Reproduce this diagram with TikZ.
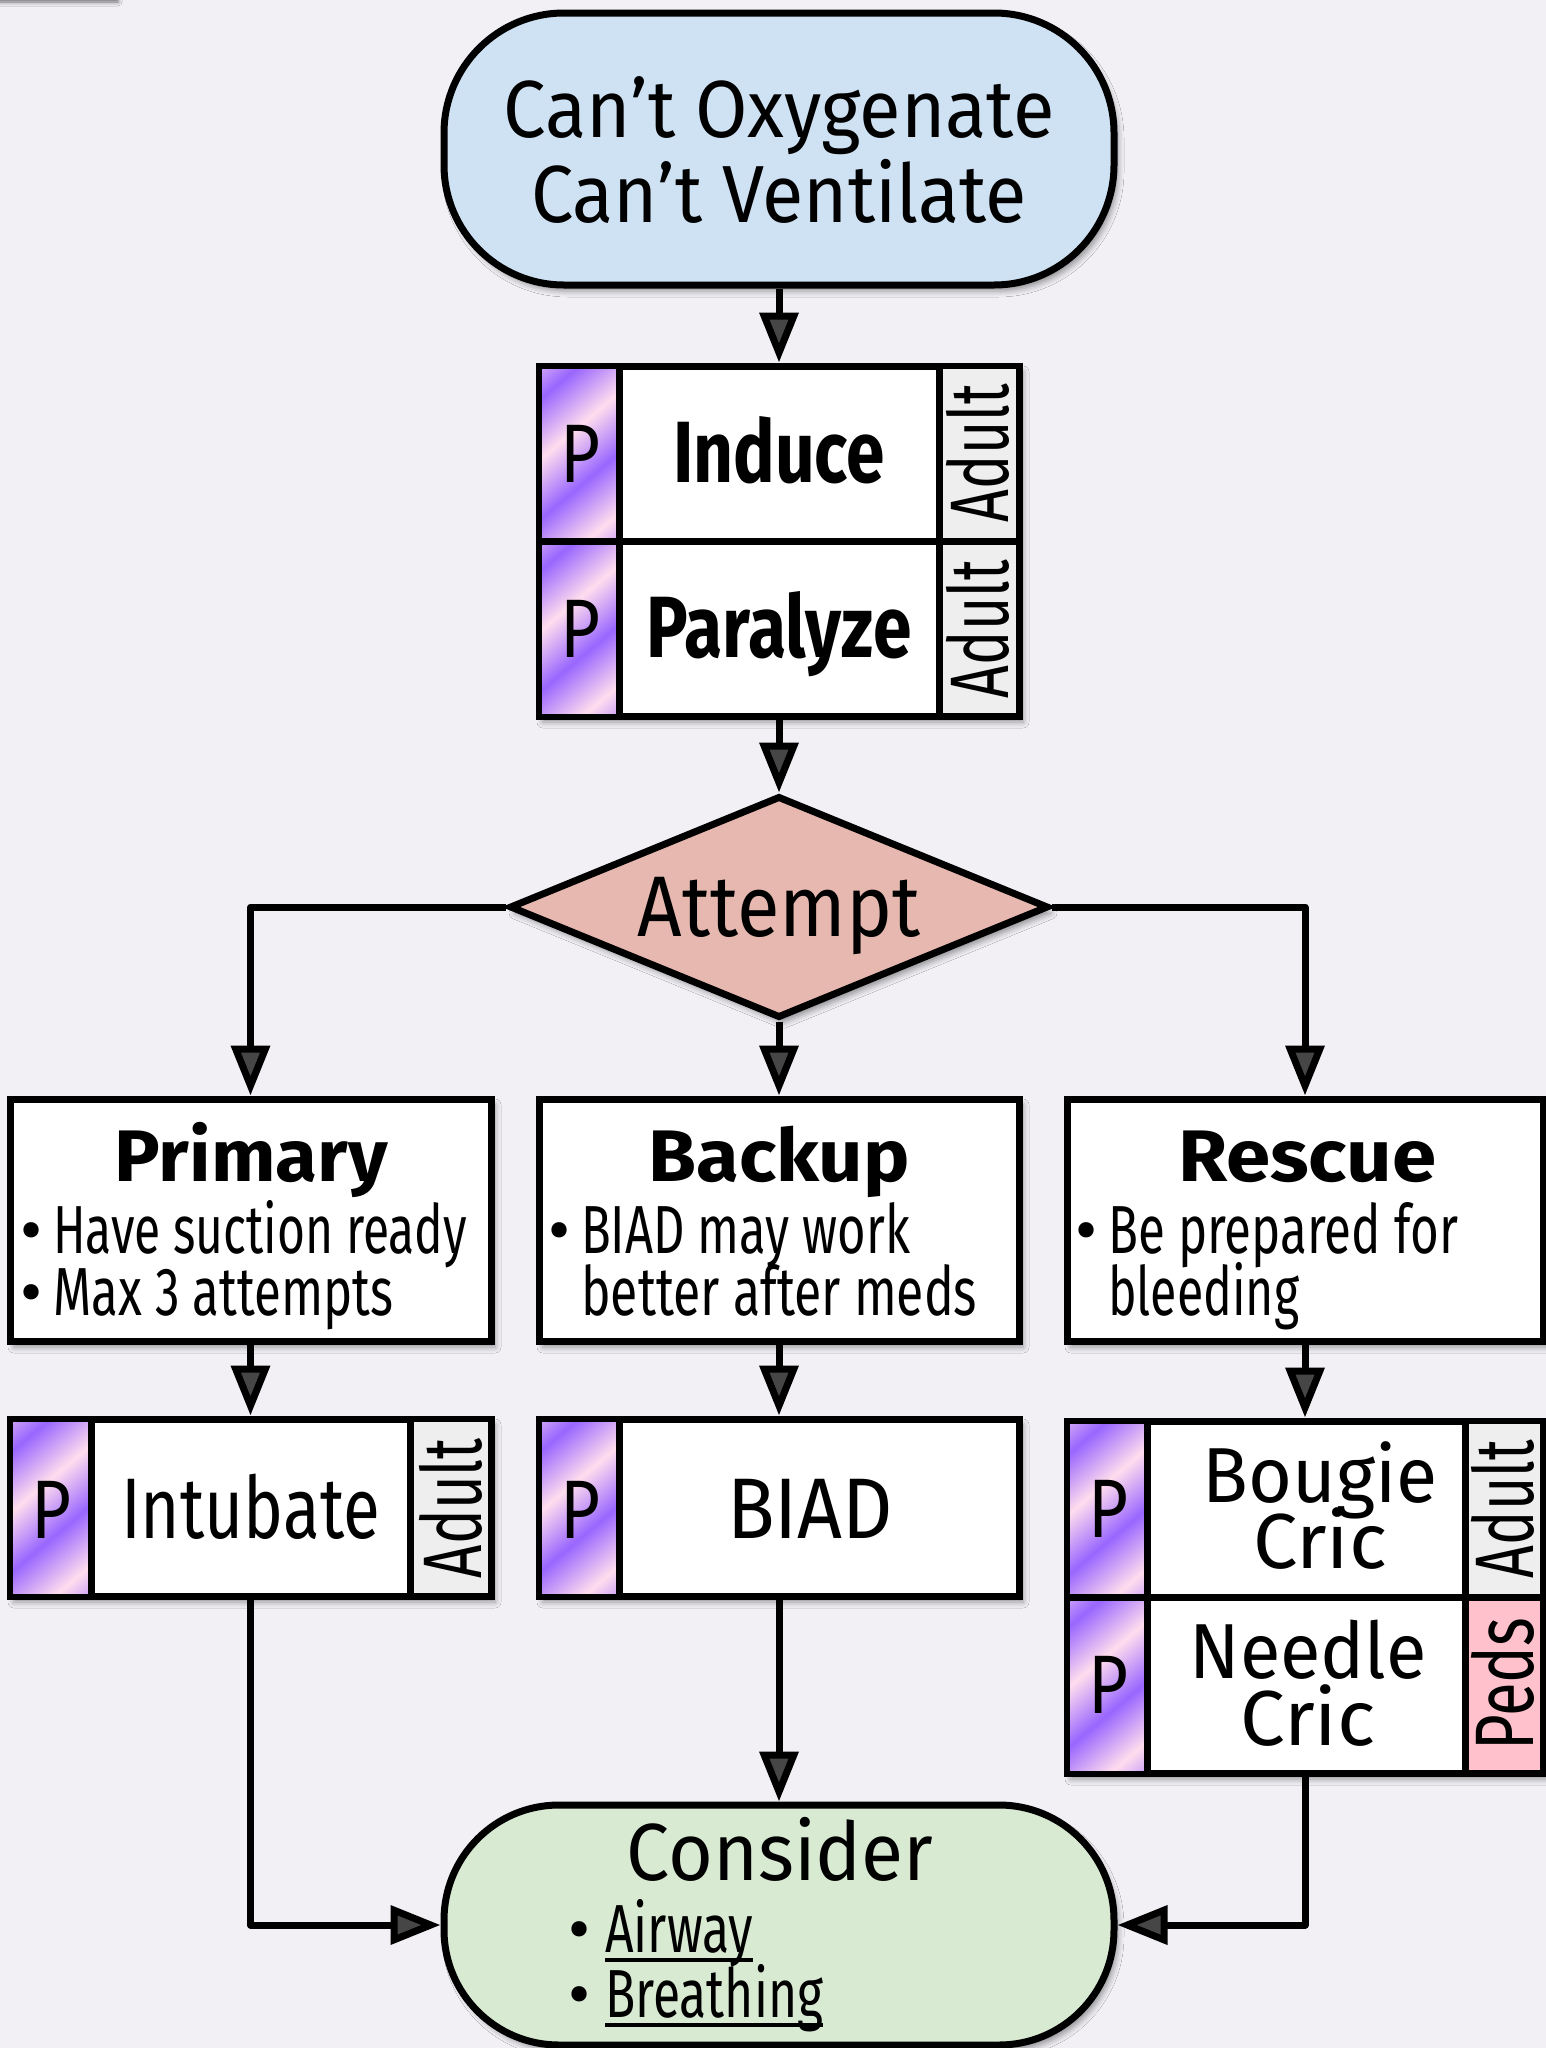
\documentclass[tikz,border=0pt]{standalone}
\usepackage{graphicx}
\usepackage{fontspec}
\setmainfont{Fira Sans}
\usetikzlibrary{arrows.meta,shapes.geometric,shadows.blur}

\definecolor{bg}{HTML}{F2F0F5}
\definecolor{startfill}{HTML}{CFE2F3}
\definecolor{decfill}{HTML}{E6B8AF}
\definecolor{endfill}{HTML}{D9EAD3}
\definecolor{agefill}{HTML}{EEEEEE}
\definecolor{pedsfill}{HTML}{FFC2CC}
\definecolor{pk}{HTML}{FFDDEE}
\definecolor{pu}{HTML}{9966FF}

% repeating pink/purple stripes for the "P" cells
\pgfdeclarehorizontalshading{pstripes}{400bp}{color(0bp)=(pk); color(46bp)=(pu); color(92bp)=(pk); color(138bp)=(pu); color(184bp)=(pk); color(230bp)=(pu); color(276bp)=(pk); color(322bp)=(pu); color(368bp)=(pk); color(414bp)=(pu)}

\newcommand\fs[1]{\fontsize{#1}{#1}\selectfont}
% set text squeezed/stretched to a given width (in pt)
\newsavebox\fitbox
\newcommand\fitw[2]{\sbox\fitbox{#2}\pgfmathsetmacro\fitr{#1/\the\wd\fitbox}\scalebox{\fitr}[1]{\usebox\fitbox}}
% heavy underline
\newsavebox\ulbox
\newcommand\ulined[1]{\sbox\ulbox{#1}\rlap{\usebox\ulbox}\rule[-10pt]{\wd\ulbox}{4.5pt}}

% striped cell clipped to a rectangle
\newcommand\pcell[5]{%
  \begin{scope}
    \clip (#2,#3) rectangle (#4,#5);
    \node[inner sep=0pt, rotate=-50] (#1) at ({(#2+#4)/2},{(#3+#5)/2}) {\pgfuseshading{pstripes}};
  \end{scope}}

\tikzset{
  bd/.style={draw=black, line width=7pt},
  boxsh/.style={blur shadow={shadow xshift=4pt, shadow yshift=-6pt, shadow blur radius=6pt, shadow opacity=40}},
  box/.style={bd, boxsh, fill=white, rectangle, inner sep=0pt},
  txt/.style={inner sep=0pt, anchor=base, text=black},
  ltxt/.style={inner sep=0pt, anchor=base west, text=black},
  agetxt/.style={inner sep=0pt, rotate=90, font=\fs{83}},
  arr/.style={line width=7pt, line join=round, -{Triangle[length=50pt,width=38pt]}},
  divider/.style={line width=7pt}
}

\begin{document}
\begin{tikzpicture}[x=1pt,y=-1pt]
\useasboundingbox (0,0) rectangle (1546,2048);
\fill[bg] (0,0) rectangle (1546,2048);
% edge of a panel above the page
\path[blur shadow={shadow xshift=0pt, shadow yshift=-5pt, shadow blur radius=4pt, shadow opacity=55}] (-40,-80) rectangle (118,-3);

% ---------- start ----------
\node[bd, boxsh, fill=startfill, rounded corners=120pt, minimum width=670, minimum height=272, inner sep=0pt] (top) at (779,149) {};
\node[txt, font=\fs{81}] (topa) at (779,137) {\fitw{551}{Can’t Oxygenate}};
\node[txt, font=\fs{81}] (topb) at (779,222) {\fitw{496}{Can’t Ventilate}};

% ---------- induce / paralyze ----------
\node[box, minimum width=480, minimum height=350] (induce) at (779,541) {};
\pcell{pc1}{542}{369}{619}{541}
\pcell{pc2}{542}{541}{619}{713}
\fill[agefill] (939,369) rectangle (1016,713);
\draw[divider] (619,366) -- (619,716);
\draw[divider] (939,366) -- (939,716);
\draw[divider] (539,541) -- (1019,541);
\node[txt, font=\fs{83}] (p1) at (580,482) {\fitw{40}{P}};
\node[txt, font=\fs{87}\bfseries] (ind) at (779,482) {\fitw{212}{Induce}};
\node[agetxt] (ad1) at (978,453) {\fitw{138}{Adult}};
\node[txt, font=\fs{83}] (p2) at (580,657) {\fitw{40}{P}};
\node[txt, font=\fs{87}\bfseries] (par) at (779,657) {\fitw{265}{Paralyze}};
\node[agetxt] (ad2) at (978,629) {\fitw{138}{Adult}};

% ---------- decision ----------
\node[shape=diamond, bd, boxsh, fill=decfill, aspect=2.43, minimum width=539, minimum height=222, inner sep=0pt] (att) at (779,907) {};
\node[txt, font=\fs{86}] (attt) at (779,936) {\fitw{283}{Attempt}};

% ---------- three strategies ----------
\node[box, minimum width=481, minimum height=242] (primary) at (250.5,1220) {};
\node[txt, font=\fs{73}\bfseries] (pri) at (251,1181) {\fitw{273}{Primary}};
\node[ltxt, font=\fs{68}] (pri1) at (20,1253) {\makebox[33pt][l]{•}\fitw{414}{Have suction ready}};
\node[ltxt, font=\fs{68}] (pri2) at (20,1315) {\makebox[33pt][l]{•}\fitw{340}{Max 3 attempts}};

\node[box, minimum width=480, minimum height=242] (backup) at (779,1220) {};
\node[txt, font=\fs{73}\bfseries] (bak) at (779,1181) {\fitw{261}{Backup}};
\node[ltxt, font=\fs{68}] (bak1) at (548,1253) {\makebox[33pt][l]{•}\fitw{329}{BIAD may work}};
\node[ltxt, font=\fs{68}] (bak2) at (581,1315) {\fitw{396}{better after meds}};

\node[box, minimum width=476, minimum height=242] (rescue) at (1305,1220) {};
\node[txt, font=\fs{73}\bfseries] (res) at (1307,1181) {\fitw{258}{Rescue}};
\node[ltxt, font=\fs{68}] (res1) at (1075,1253) {\makebox[33pt][l]{•}\fitw{350}{Be prepared for}};
\node[ltxt, font=\fs{68}] (res2) at (1108,1315) {\fitw{191}{bleeding}};

% ---------- procedures ----------
\node[box, minimum width=481, minimum height=177] (intubate) at (250.5,1507.5) {};
\pcell{pc3}{13}{1422}{91}{1593}
\fill[agefill] (410,1422) rectangle (488,1593);
\draw[divider] (91,1419) -- (91,1596);
\draw[divider] (410,1419) -- (410,1596);
\node[txt, font=\fs{83}] (p3) at (51,1538) {\fitw{40}{P}};
\node[txt, font=\fs{86}] (intt) at (250.5,1538) {\fitw{259}{Intubate}};
\node[agetxt] (ad3) at (451,1508) {\fitw{140}{Adult}};

\node[box, minimum width=480, minimum height=177] (biad) at (779,1507.5) {};
\pcell{pc4}{542}{1422}{619}{1593}
\draw[divider] (619,1419) -- (619,1596);
\node[txt, font=\fs{83}] (p4) at (580,1538) {\fitw{40}{P}};
\node[txt, font=\fs{86}] (biadt) at (810,1538) {\fitw{166}{BIAD}};

\node[box, minimum width=476, minimum height=352] (crics) at (1305,1597) {};
\pcell{pc5}{1070}{1424}{1147}{1597}
\pcell{pc6}{1070}{1597}{1147}{1770}
\fill[agefill] (1465,1424) rectangle (1540,1597);
\fill[pedsfill] (1465,1597) rectangle (1540,1770);
\draw[divider] (1147,1421) -- (1147,1773);
\draw[divider] (1465,1421) -- (1465,1773);
\draw[divider] (1067,1597) -- (1543,1597);
\node[txt, font=\fs{83}] (p5) at (1108,1537) {\fitw{40}{P}};
\node[txt, font=\fs{78}] (boug) at (1320,1502) {\fitw{235}{Bougie}};
\node[txt, font=\fs{78}] (cric1) at (1320,1568) {\fitw{134}{Cric}};
\node[agetxt] (ad4) at (1503,1509) {\fitw{138}{Adult}};
\node[txt, font=\fs{83}] (p6) at (1108,1713) {\fitw{40}{P}};
\node[txt, font=\fs{78}] (need) at (1308,1678) {\fitw{237}{Needle}};
\node[txt, font=\fs{78}] (cric2) at (1308,1745) {\fitw{135}{Cric}};
\node[agetxt] (peds) at (1503,1684) {\fitw{133}{Peds}};

% ---------- end ----------
\node[bd, boxsh, fill=endfill, rounded corners=115pt, minimum width=670, minimum height=240, inner sep=0pt] (consider) at (779,1925) {};
\node[txt, font=\fs{81}] (cons) at (780,1880) {\fitw{307}{Consider}};
\node[ltxt, font=\fs{68}] (c1) at (568,1952) {\makebox[37pt][l]{•}\fitw{148}{\ulined{Airway}}};
\node[ltxt, font=\fs{68}] (c2) at (568,2017) {\makebox[37pt][l]{•}\fitw{218}{\ulined{Breathing}}};

% ---------- connectors ----------
\draw[arr] (top.south) -- (induce.north);
\draw[arr] (induce.south) -- (att.north);
\draw[arr] (att.west) -| (primary.north);
\draw[arr] (att.south) -- (backup.north);
\draw[arr] (att.east) -| (rescue.north);
\draw[arr] (primary.south) -- (intubate.north);
\draw[arr] (backup.south) -- (biad.north);
\draw[arr] (rescue.south) -- (crics.north);
\draw[arr] (intubate.south) |- (consider.west);
\draw[arr] (biad.south) -- (consider.north);
\draw[arr] (crics.south) |- (consider.east);
\end{tikzpicture}
\end{document}
